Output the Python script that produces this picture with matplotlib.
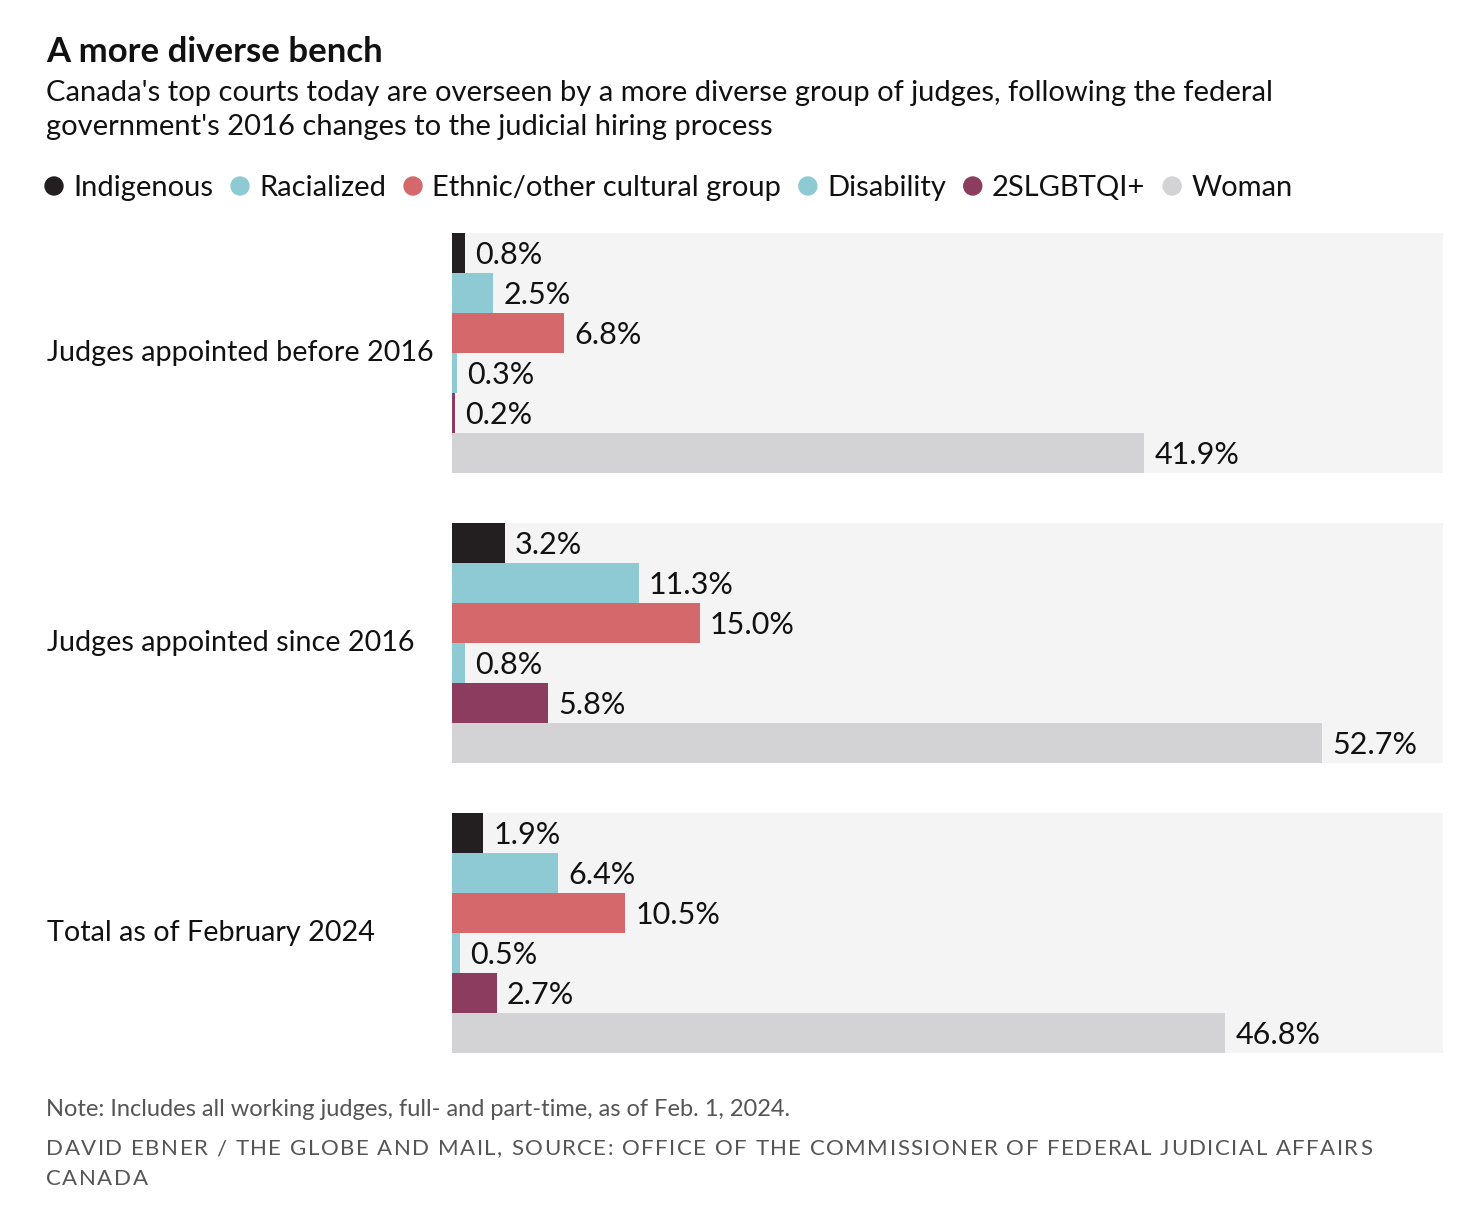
import matplotlib
matplotlib.use("Agg")
import matplotlib.pyplot as plt
from matplotlib.patches import Circle

plt.rcParams['font.family'] = ['Lato', 'DejaVu Sans']

# data
groups = ["Judges appointed before 2016", "Judges appointed since 2016", "Total as of February 2024"]
series = ["Indigenous", "Racialized", "Ethnic/other cultural group", "Disability", "2SLGBTQI+", "Woman"]
colors = ["#231f20", "#8ecad4", "#d4686a", "#8ecad4", "#8b3c5f", "#d3d3d5"]
before_2016 = [0.8, 2.5, 6.8, 0.3, 0.2, 41.9]
since_2016 = [3.2, 11.3, 15.0, 0.8, 5.8, 52.7]
total_2024 = [1.9, 6.4, 10.5, 0.5, 2.7, 46.8]
values = [before_2016, since_2016, total_2024]

W, H = 1478, 1219
DY = 2  # small nudge so text sits like the original
fig = plt.figure(figsize=(W / 100, H / 100), dpi=100)
fig.patch.set_facecolor("white")


def ftext(x, y, s, **kw):
    # figure text placed in pixel coords from top-left
    return fig.text(x / W, 1 - (y + DY) / H, s, va="center", ha="left", **kw)


# axes placed in pixel terms
ax = fig.add_axes([452 / W, 1 - 1053 / H, 991 / W, 820 / H])
XMAX = 60
stride = 7.25
for g, vals in enumerate(values):
    y0 = g * stride
    ax.barh(y0 + 3, XMAX, height=6, color="#f4f4f4", zorder=0)
    for i, v in enumerate(vals):
        ax.barh(y0 + i + 0.5, v, height=1, color=colors[i], zorder=2)
        ax.text(v + 0.62, y0 + i + 0.5 + 0.05, f"{v:.1f}%", va="center", ha="left",
                fontsize=22, color="#111111", zorder=3)
    # category label
    ftext(47, 233 + g * 290 + 118, groups[g], fontsize=20.7, color="#111111")

ax.set_xlim(0, XMAX)
ax.set_ylim(2 * stride + 6, 0)
ax.axis("off")

# header
ftext(46, 50, "A more diverse bench", fontsize=25, fontweight="bold", color="#111111")
ftext(46, 91, "Canada's top courts today are overseen by a more diverse group of judges, following the federal",
      fontsize=21, color="#111111")
ftext(46, 125, "government's 2016 changes to the judicial hiring process", fontsize=21, color="#111111")

# legend
fig.canvas.draw()
renderer = fig.canvas.get_renderer()
x = 45
ly = 186
for name, c in zip(series, colors):
    fig.patches.append(Circle((x + 9, H - ly), 9, color=c, transform=None, figure=fig))
    t = ftext(x + 28, ly, name, fontsize=21, color="#111111")
    bb = t.get_window_extent(renderer)
    x = bb.x1 + 18

# footer
ftext(46, 1107, "Note: Includes all working judges, full- and part-time, as of Feb. 1, 2024.",
      fontsize=17, color="#555555")


def spaced(x, y, s, spacing, **kw):
    # draw text with extra letter spacing, char by char
    for i, ch in enumerate(s):
        if i > 0:
            tmp = fig.text(0, 0, s[:i] + "|", **kw)
            w = tmp.get_window_extent(renderer).width
            bar = fig.text(0, 0, "|", **kw)
            w -= bar.get_window_extent(renderer).width
            tmp.remove()
            bar.remove()
        else:
            w = 0
        ftext(x + w + i * spacing, y, ch, **kw)


spaced(46, 1147, "DAVID EBNER / THE GLOBE AND MAIL, SOURCE: OFFICE OF THE COMMISSIONER OF FEDERAL JUDICIAL AFFAIRS",
       1.5, fontsize=16, color="#555555")
spaced(46, 1177, "CANADA", 1.5, fontsize=16, color="#555555")

fig.savefig("out.png", dpi=100, facecolor="white")
